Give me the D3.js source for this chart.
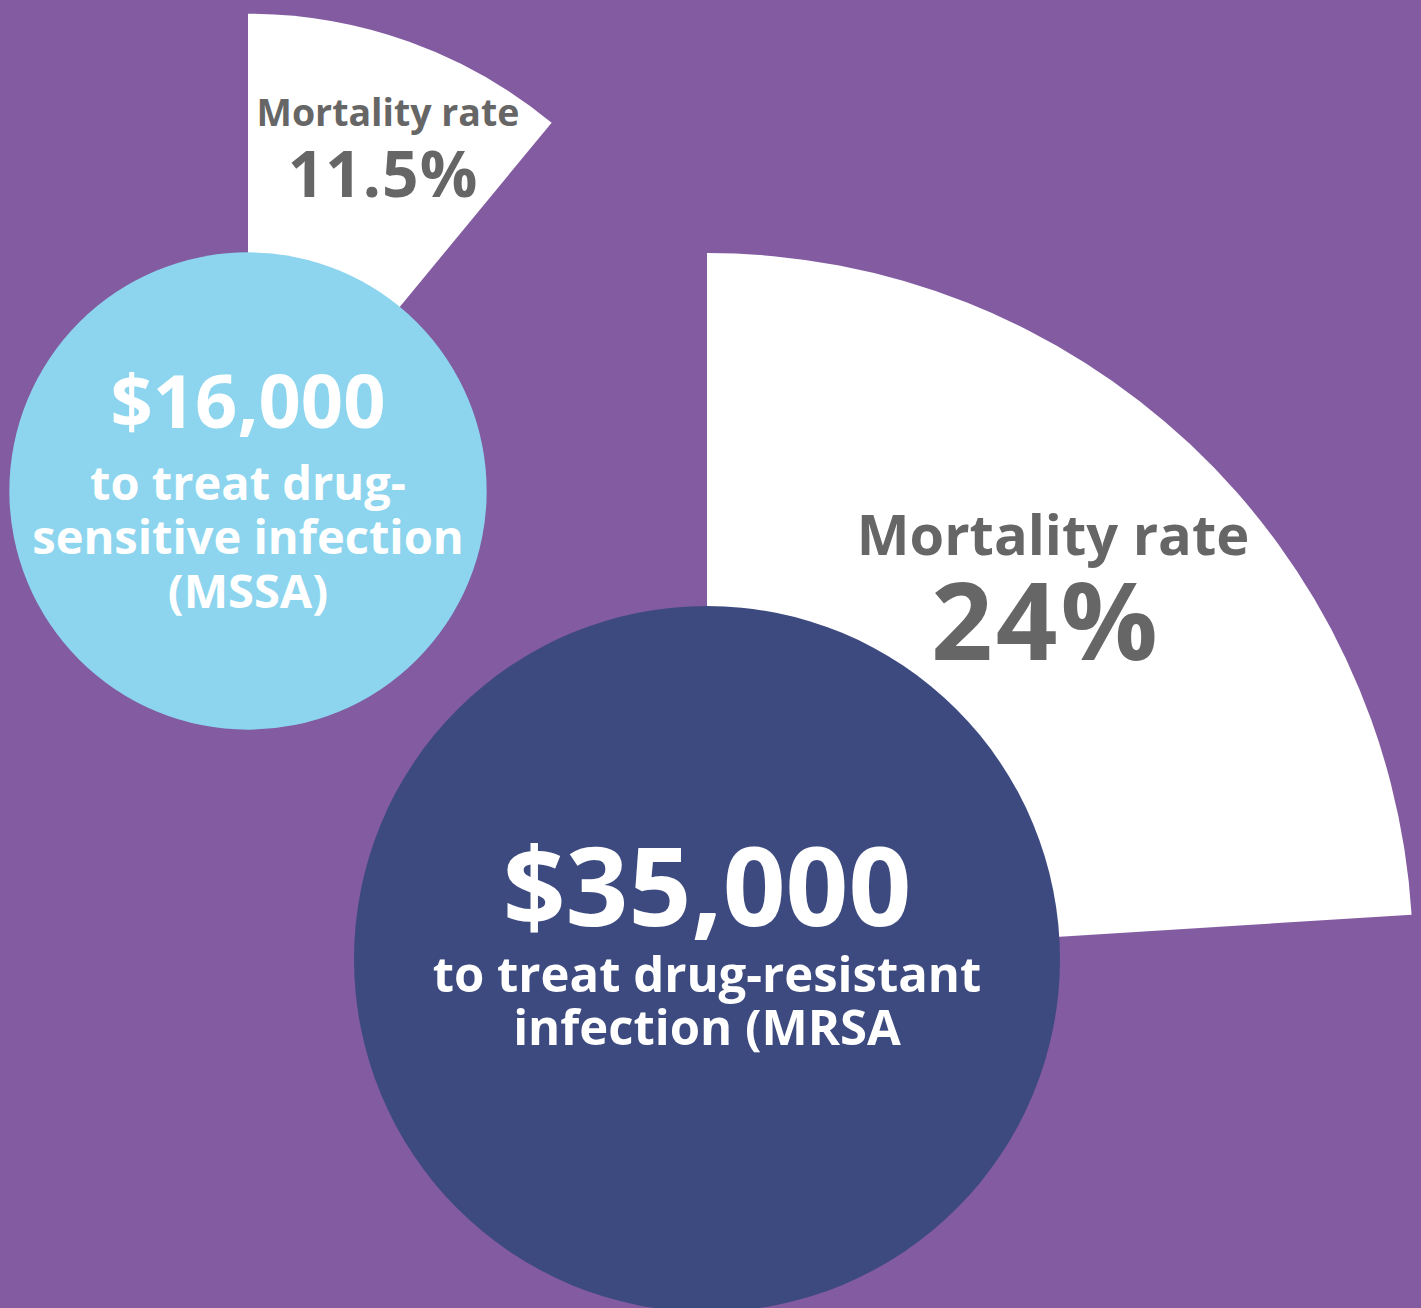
<!DOCTYPE html>
<html>
<head>
<meta charset="utf-8">
<script src="https://cdn.jsdelivr.net/npm/d3@7"></script>
<style>
  html, body { margin: 0; padding: 0; background: #825BA1; }
  svg { display: block; }
  text { font-family: "Open Sans", "DejaVu Sans", sans-serif; font-weight: 700; }
</style>
</head>
<body>
<svg id="chart" width="1421" height="1308"></svg>
<script>
// ---- data ----
const infections = ["MSSA", "MRSA"];
const costs = [16000, 35000];                 // treatment cost, USD
const mortality = [11.5, 24];                 // mortality rate, %
const costLabels = ["$16,000", "$35,000"];
const mortalityLabels = ["11.5%", "24%"];
const mortalityTitle = ["Mortality rate", "Mortality rate"];
const descLines = [
  ["to treat drug-", "sensitive infection", "(MSSA)"],
  ["to treat drug-resistant", "infection (MRSA"]
];

// ---- layout (positions/styles) ----
const W = 1421, H = 1308;
const centers = [[248, 491], [707, 959]];
const circleColors = ["#8DD5EE", "#3D4A7F"];
const bg = "#825BA1";
const gray = "#666666";

const svg = d3.select("#chart");
svg.append("rect").attr("width", W).attr("height", H).attr("fill", bg);

// radius proportional to sqrt of cost (area encodes cost)
const rScale = d3.scaleSqrt().domain([0, 35000]).range([0, 353]);
// wedge angle from mortality rate
const angleScale = d3.scaleLinear().domain([11.5, 24]).range([39.5, 86.4].map(d => d * Math.PI / 180));

const data = infections.map((k, i) => ({
  key: k, cost: costs[i], mort: mortality[i],
  cx: centers[i][0], cy: centers[i][1],
  r: rScale(costs[i]), i
}));

const arc = d3.arc().innerRadius(0).startAngle(0);

// wedges
svg.selectAll("path.wedge").data(data).join("path")
  .attr("class", "wedge")
  .attr("transform", d => `translate(${d.cx},${d.cy})`)
  .attr("d", d => arc({ outerRadius: d.r * 2, endAngle: angleScale(d.mort) }))
  .attr("fill", "#ffffff");

// circles
svg.selectAll("circle.cost").data(data).join("circle")
  .attr("class", "cost")
  .attr("cx", d => d.cx).attr("cy", d => d.cy).attr("r", d => d.r)
  .attr("fill", (d, i) => circleColors[i]);

// wedge labels
const wedgeText = [
  { title: { x: 388, y: 126, size: 37.5 }, value: { x: 383, y: 197, size: 64, ls: 1 } },
  { title: { x: 1053, y: 555, size: 56 }, value: { x: 1046, y: 660, size: 108, ls: 3 } }
];
data.forEach((d, i) => {
  const t = wedgeText[i];
  svg.append("text").attr("x", t.title.x).attr("y", t.title.y)
    .attr("text-anchor", "middle").attr("font-size", t.title.size)
    .attr("fill", gray).text(mortalityTitle[i]);
  svg.append("text").attr("x", t.value.x).attr("y", t.value.y)
    .attr("text-anchor", "middle").attr("font-size", t.value.size)
    .attr("letter-spacing", t.value.ls)
    .attr("fill", gray).text(mortalityLabels[i]);
});

// circle labels
const circleText = [
  { cost: { y: 428, size: 74 }, desc: { y0: 500, step: 54, size: 47 } },
  { cost: { y: 926, size: 110 }, desc: { y0: 992, step: 53, size: 49 } }
];
data.forEach((d, i) => {
  const t = circleText[i];
  svg.append("text").attr("x", d.cx).attr("y", t.cost.y)
    .attr("text-anchor", "middle").attr("font-size", t.cost.size)
    .attr("fill", "#ffffff").text(costLabels[i]);
  descLines[i].forEach((line, j) => {
    svg.append("text").attr("x", d.cx).attr("y", t.desc.y0 + j * t.desc.step)
      .attr("text-anchor", "middle").attr("font-size", t.desc.size)
      .attr("fill", "#ffffff").text(line);
  });
});
</script>
</body>
</html>
